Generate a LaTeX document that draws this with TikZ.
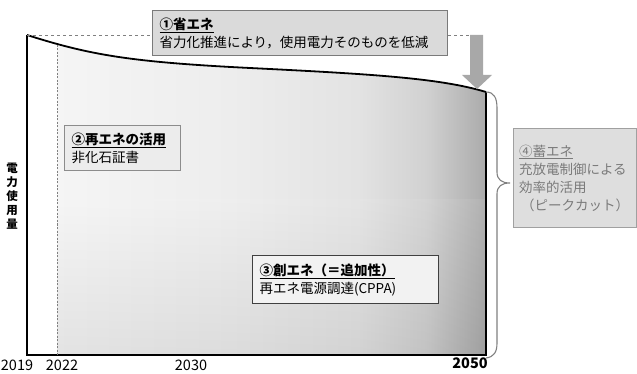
\documentclass[tikz,border=0pt]{standalone}
\usepackage{fontspec}
\setmainfont{Noto Sans CJK JP}
\usetikzlibrary{calc}
\definecolor{boxa}{HTML}{DADADA}
\definecolor{boxaline}{HTML}{7A7A7A}
\definecolor{boxb}{HTML}{ECECEC}
\definecolor{boxbline}{HTML}{8C8C8C}
\definecolor{boxc}{HTML}{F2F2F2}
\definecolor{boxcline}{HTML}{404040}
\definecolor{boxd}{HTML}{DEDEDE}
\definecolor{boxdline}{HTML}{A0A0A0}
\definecolor{boxdtext}{HTML}{7A7A7A}
\definecolor{arrowgray}{HTML}{A8A8A8}
\definecolor{dashgray}{HTML}{808080}
\pgfdeclarehorizontalshading{areashade}{100bp}{
  color(0bp)=(black!4); color(25bp)=(black!4); color(45bp)=(black!7);
  color(60bp)=(black!11); color(68bp)=(black!18); color(75bp)=(black!33); color(100bp)=(black!33)}
\tikzset{
  infobox/.style={draw, line width=1pt, align=left, inner xsep=7pt, inner ysep=3pt,
    font=\fontsize{13.5}{18}\selectfont, anchor=north west},
  axisline/.style={line width=1.8pt, black},
  guide/.style={dashed, dashgray, line width=0.8pt},
  yearlabel/.style={font=\fontsize{14.5}{16}\selectfont, inner sep=0pt}
}
\begin{document}
\begin{tikzpicture}[x=1pt,y=-1pt]
\useasboundingbox (0,0) rectangle (637,374);
% key coordinates
\coordinate (top) at (27,35);
\coordinate (origin) at (27,355);
\coordinate (endbot) at (486,355);
\coordinate (endtop) at (486,92);
\coordinate (dtop) at (57,45);
\coordinate (dbot) at (57,355);
% shaded area under curve, right of 2022
\begin{scope}
\clip (57,30) -- (57,355) -- (486,355) -- (486,92) .. controls (440,78) and (370,74) .. (250,68)
  .. controls (130,62) and (90,55) .. (27,35) -- cycle;
\shade[shading=areashade] (57,30) rectangle (486,355);
\shade[top color=white, bottom color=black, opacity=0.07] (57,200) rectangle (486,355);
\end{scope}
% curve
\draw[axisline] (top) .. controls (90,55) and (130,62) .. (250,68)
  .. controls (370,74) and (440,78) .. (endtop);
% axes
\draw[axisline] (top) -- (origin) -- (endbot) -- (endtop);
% 2022 dashed line
\draw[guide, dash pattern=on 2pt off 1.5pt] (dtop) -- (dbot);
% boxes
\node[infobox, fill=boxa, draw=boxaline, minimum width=295pt, minimum height=45pt, text width=281pt] (b1) at (152,10)
  {\underline{\bfseries ①省エネ}\\省力化推進により，使用電力そのものを低減};
\node[infobox, fill=boxb, draw=boxbline, minimum width=116pt, minimum height=45pt, text width=102pt] (b2) at (64,125)
  {\underline{\bfseries ②再エネの活用}\\非化石証書};
\node[infobox, fill=boxc, draw=boxcline, minimum width=186pt, minimum height=48pt, text width=172pt] (b3) at (252,255)
  {\underline{\bfseries ③創エネ（＝追加性）}\\再エネ電源調達(CPPA)};
\node[infobox, fill=boxd, draw=boxdline, text=boxdtext, minimum width=123pt, minimum height=99pt, text width=112pt, inner xsep=5pt] (b4) at (513,128)
  {\underline{④蓄エネ}\\充放電制御による\\効率的活用\\\hspace*{2pt}（ピークカット）};
% dashed guide lines
\coordinate (arrtop) at (476.5,35);
\draw[guide] (top) -- (top -| b1.west);
\draw[guide] (b1.east |- arrtop) -- (arrtop);
% grey arrow
\fill[arrowgray] (470,35) -- (483,35) -- (483,75) -- (492,75) -- (477,89) -- (462,75) -- (470,75) -- cycle;
% brace
\coordinate (bracetip) at (510,183);
\draw[dashgray, line width=1.1pt] (endtop) .. controls (494,92) and (497,98) .. (497,108) -- (497,172)
  .. controls (497,180) and (502,183) .. (bracetip)
  .. controls (502,183) and (497,186) .. (497,194) -- (497,343)
  .. controls (497,352) and (494,357) .. (486,358);
% y label
\node[font=\bfseries\fontsize{11.5}{14}\selectfont, align=center, inner sep=0pt] (ylab) at (12,196) {電\\力\\使\\用\\量};
% year labels
\node[yearlabel] (y2019) at (17,365) {2019};
\node[yearlabel] (y2022) at (62,365) {2022};
\node[yearlabel] (y2030) at (191,365) {2030};
\node[yearlabel, font=\bfseries\fontsize{14.5}{16}\selectfont] (y2050) at (470,363) {2050};
\end{tikzpicture}
\end{document}
